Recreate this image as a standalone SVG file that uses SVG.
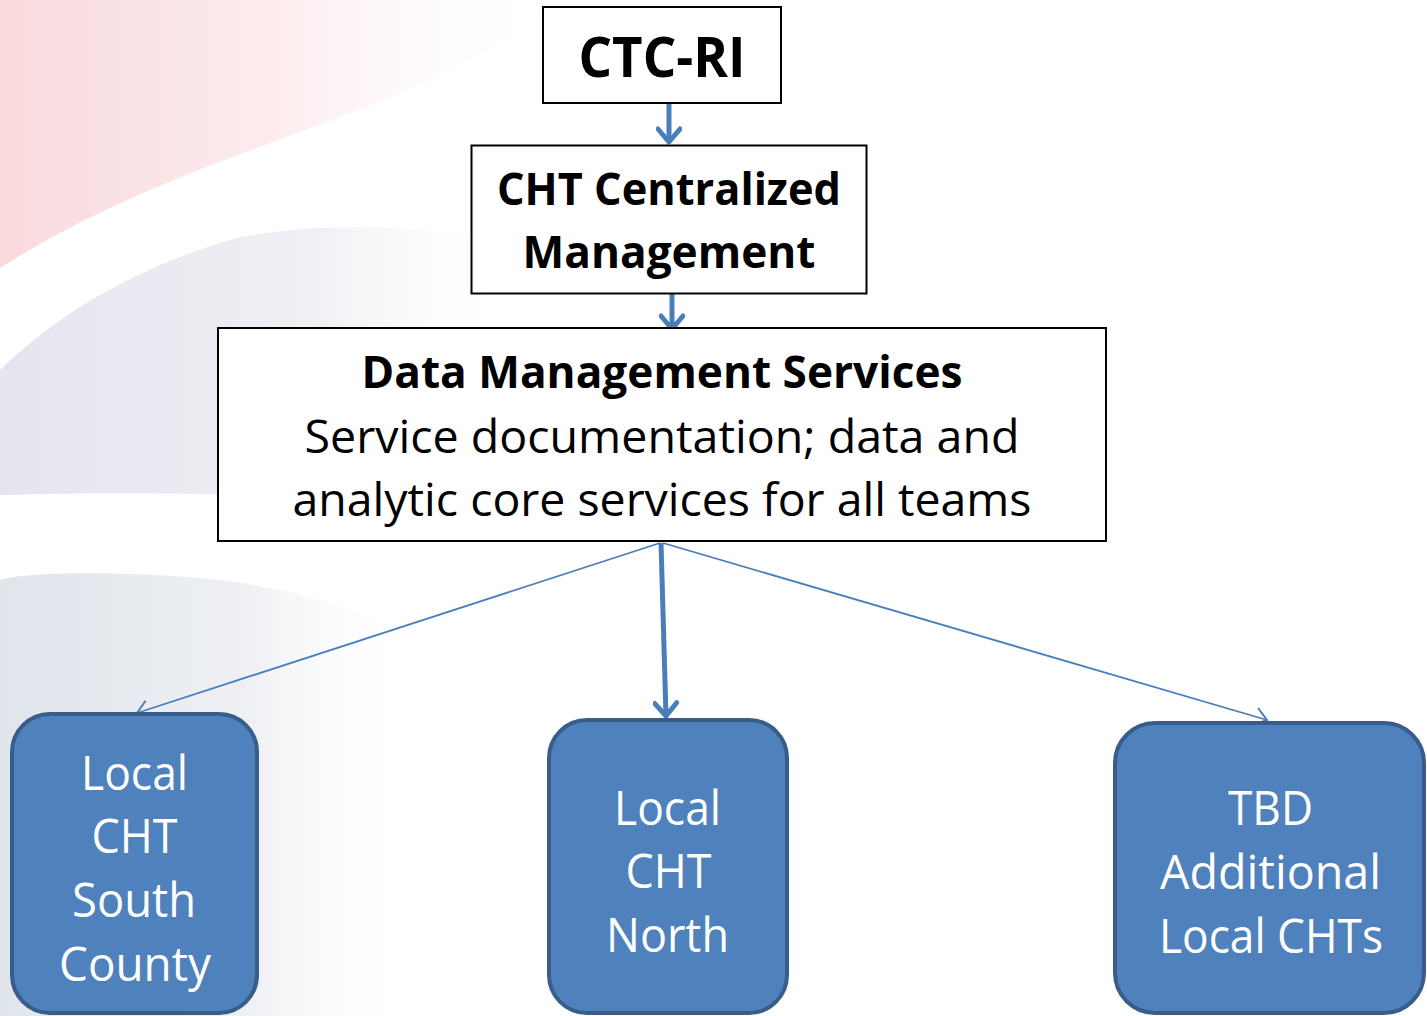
<svg xmlns="http://www.w3.org/2000/svg" width="1427" height="1016" viewBox="0 0 1427 1016">
<defs>
<style>
.box{fill:#ffffff;stroke:#000000;stroke-width:2}
.rbox{fill:#4f81bd;stroke:#385d8a;stroke-width:4}
.bt{font-family:"Open Sans","Liberation Sans",sans-serif;font-weight:bold;fill:#000;text-anchor:middle}
.nt{font-family:"Open Sans","Liberation Sans",sans-serif;fill:#000;text-anchor:middle}
.wt{font-family:"Open Sans","Liberation Sans",sans-serif;fill:#fff;text-anchor:middle}
.thick{stroke:#4a7ebb;stroke-width:5;fill:none}
.thin{stroke:#4a7ebb;stroke-width:1.8;fill:none}
</style>
<marker id="hThick" markerUnits="userSpaceOnUse" markerWidth="26" markerHeight="26" viewBox="0 0 26 26" refX="22" refY="13" orient="auto">
<path d="M9,2 L22,13 L9,24" fill="none" stroke="#4a7ebb" stroke-width="5" stroke-linecap="round" stroke-linejoin="round"/>
</marker>
<marker id="hThin" markerUnits="userSpaceOnUse" markerWidth="24" markerHeight="24" viewBox="0 0 24 24" refX="20" refY="12" orient="auto">
<path d="M8,3 L20,12 L8,21" fill="none" stroke="#4a7ebb" stroke-width="2"/>
</marker>
<linearGradient id="gPink" x1="0" y1="0" x2="1" y2="0">
<stop offset="0" stop-color="#f9dadd"/>
<stop offset="0.5" stop-color="#fcecee"/>
<stop offset="1" stop-color="#ffffff" stop-opacity="0"/>
</linearGradient>
<linearGradient id="gLav" x1="0" y1="0" x2="1" y2="0">
<stop offset="0" stop-color="#e4e5ef"/>
<stop offset="0.6" stop-color="#eff0f4"/>
<stop offset="1" stop-color="#ffffff" stop-opacity="0"/>
</linearGradient>
<linearGradient id="gGray" x1="0" y1="0" x2="1" y2="0">
<stop offset="0" stop-color="#e0e5ec"/>
<stop offset="0.6" stop-color="#eef0f3"/>
<stop offset="1" stop-color="#ffffff" stop-opacity="0"/>
</linearGradient>
</defs>
<rect width="1427" height="1016" fill="#ffffff"/>
<g id="background">
<path d="M0,0 H560 C420,120 200,140 0,268 Z" fill="url(#gPink)"/>
<path d="M0,370 C40,330 120,270 241,237 C320,222 420,225 520,240 L520,500 C440,500 380,513 379,513 C300,495 200,490 0,495 Z" fill="url(#gLav)"/>
<path d="M0,580 C30,572 100,572 172,576 C240,580 300,590 380,620 C420,680 420,760 400,1016 L0,1016 Z" fill="url(#gGray)"/>
</g>
<g id="connectors">
<line class="thick" x1="669" y1="104" x2="669" y2="142" marker-end="url(#hThick)"/>
<line class="thick" x1="672" y1="294" x2="672" y2="329" marker-end="url(#hThick)"/>
<line class="thick" x1="661" y1="543" x2="666" y2="716" marker-end="url(#hThick)"/>
<line class="thin" x1="660" y1="543" x2="137" y2="713" marker-end="url(#hThin)"/>
<line class="thin" x1="663" y1="543" x2="1267" y2="720" marker-end="url(#hThin)"/>
</g>
<g id="node-ctcri">
<rect class="box" x="543" y="7" width="238" height="96"/>
<text class="bt" x="662" y="77" font-size="56" textLength="167" lengthAdjust="spacingAndGlyphs">CTC-RI</text>
</g>
<g id="node-cht-central">
<rect class="box" x="471.5" y="145.5" width="395" height="148"/>
<text class="bt" x="669" y="205" font-size="45" textLength="344" lengthAdjust="spacingAndGlyphs">CHT Centralized</text>
<text class="bt" x="669" y="268" font-size="45" textLength="293" lengthAdjust="spacingAndGlyphs">Management</text>
</g>
<g id="node-dms">
<rect class="box" x="218" y="328" width="888" height="213"/>
<text class="bt" x="662" y="388" font-size="45" textLength="601" lengthAdjust="spacingAndGlyphs">Data Management Services</text>
<text class="nt" x="662" y="453" font-size="46" textLength="715" lengthAdjust="spacingAndGlyphs">Service documentation; data and</text>
<text class="nt" x="662" y="516" font-size="46" textLength="739" lengthAdjust="spacingAndGlyphs">analytic core services for all teams</text>
</g>
<g id="node-south">
<rect class="rbox" x="12" y="714" width="245" height="299" rx="38" ry="38"/>
<text class="wt" x="134.5" y="790" font-size="48" textLength="107" lengthAdjust="spacingAndGlyphs">Local</text>
<text class="wt" x="134.5" y="853" font-size="48" textLength="86" lengthAdjust="spacingAndGlyphs">CHT</text>
<text class="wt" x="134" y="917" font-size="48" textLength="124" lengthAdjust="spacingAndGlyphs">South</text>
<text class="wt" x="135" y="981" font-size="48" textLength="152" lengthAdjust="spacingAndGlyphs">County</text>
</g>
<g id="node-north">
<rect class="rbox" x="549" y="720" width="238" height="293" rx="38" ry="38"/>
<text class="wt" x="667.5" y="825" font-size="48" textLength="107" lengthAdjust="spacingAndGlyphs">Local</text>
<text class="wt" x="668.5" y="888" font-size="48" textLength="86" lengthAdjust="spacingAndGlyphs">CHT</text>
<text class="wt" x="667.5" y="952" font-size="48" textLength="123" lengthAdjust="spacingAndGlyphs">North</text>
</g>
<g id="node-tbd">
<rect class="rbox" x="1115" y="723" width="309" height="290" rx="40" ry="40"/>
<text class="wt" x="1270.5" y="825" font-size="48" textLength="85" lengthAdjust="spacingAndGlyphs">TBD</text>
<text class="wt" x="1270.5" y="889" font-size="48" textLength="221" lengthAdjust="spacingAndGlyphs">Additional</text>
<text class="wt" x="1271" y="953" font-size="48" textLength="224" lengthAdjust="spacingAndGlyphs">Local CHTs</text>
</g>
</svg>
